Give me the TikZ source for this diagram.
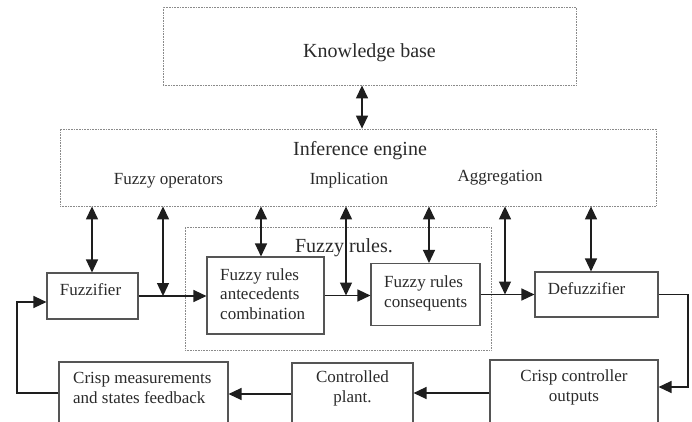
\documentclass[tikz,border=0pt]{standalone}
\usepackage{fontspec}
\setmainfont{Liberation Serif}
\usetikzlibrary{arrows.meta}
\definecolor{boxc}{HTML}{555555}
\definecolor{dotc}{HTML}{8A8A8A}
\definecolor{linec}{HTML}{1E1E1E}
\definecolor{txtc}{HTML}{2A2A2A}
\begin{document}
\begin{tikzpicture}[x=1pt,y=-1pt,
  box/.style={draw=boxc, line width=1.1pt, rectangle, inner sep=0pt},
  dotbox/.style={draw=dotc, line width=0.8pt, dash pattern=on 0.7pt off 0.9pt, rectangle, inner sep=0pt},
  lbl/.style={font=\fontsize{17}{19.5}\selectfont, inner sep=0pt, text=txtc},
  big/.style={font=\fontsize{20}{24}\selectfont, inner sep=0pt, text=txtc},
  arr/.style={draw=linec, line width=1.3pt, -{Triangle[length=13pt,width=12pt]}},
  dbl/.style={draw=linec, line width=1.3pt, {Triangle[length=13pt,width=12pt]}-{Triangle[length=13pt,width=12pt]}}]
\clip (0,0) rectangle (692,421);
\fill[white] (0,0) rectangle (692,421);
% containers
\node[dotbox, minimum width=413pt, minimum height=78pt] (kb) at (369.5,46) {};
\node[dotbox, minimum width=596pt, minimum height=77pt] (ie) at (358,167.5) {};
\node[dotbox, minimum width=306pt, minimum height=123pt] (fr) at (338,288.5) {};
% boxes
\node[box, minimum width=91pt, minimum height=46pt] (fuzz) at (92.5,296) {};
\node[box, minimum width=117pt, minimum height=77pt] (ant) at (265.5,295.5) {};
\node[box, minimum width=109pt, minimum height=62pt] (cons) at (425.5,294.5) {};
\node[box, minimum width=123pt, minimum height=45pt] (defz) at (596.5,294.5) {};
\node[box, minimum width=168pt, minimum height=80pt] (outs) at (574,400) {};
\node[box, minimum width=121pt, minimum height=77pt] (plant) at (352.5,401.5) {};
\node[box, minimum width=169pt, minimum height=78pt] (meas) at (143.5,401) {};
% texts (multi-line nodes anchored at the baseline of their last line)
\node[big, anchor=base] (tkb) at (369.5,57) {Knowledge base};
\node[big, anchor=base] (tie) at (360,155) {Inference engine};
\node[lbl, anchor=base] (top) at (168.5,184) {Fuzzy operators};
\node[lbl, anchor=base] (timp) at (349,184) {Implication};
\node[lbl, anchor=base] (tagg) at (500,181) {Aggregation};
\node[big, anchor=base] (tfr) at (344,252) {Fuzzy rules.};
\node[lbl, anchor=base] (tfuzz) at (90.5,295) {Fuzzifier};
\node[lbl, anchor=base west, align=left] (tant) at (220,319) {Fuzzy rules\\antecedents\\combination};
\node[lbl, anchor=base west, align=left] (tcons) at (384,307) {Fuzzy rules\\consequents};
\node[lbl, anchor=base] (tdefz) at (586.5,294) {Defuzzifier};
\node[lbl, anchor=base, align=center] (touts) at (574,401) {Crisp controller\\outputs};
\node[lbl, anchor=base, align=center] (tplant) at (352.5,402) {Controlled\\plant.};
\node[lbl, anchor=base west, align=left] (tmeas) at (73,403) {Crisp measurements\\and states feedback};
% junctions
\coordinate (j1) at (fuzz.east -| 163,0);
\coordinate (j2) at (ant.east -| 346,0);
\coordinate (j3) at (cons.east -| 505,0);
% vertical links
\draw[dbl] (kb.south -| 362,0) -- (ie.north -| 362,0);
\draw[dbl] (ie.south -| 92,0) -- (fuzz.north -| 92,0);
\draw[dbl] (ie.south -| j1) -- (j1);
\draw[dbl] (ie.south -| 261,0) -- (ant.north -| 261,0);
\draw[dbl] (ie.south -| j2) -- (j2);
\draw[dbl] (ie.south -| 429,0) -- (cons.north -| 429,0);
\draw[dbl] (ie.south -| j3) -- (j3);
\draw[dbl] (ie.south -| 591,0) -- (defz.north -| 591,0);
% main flow
\draw[arr] (fuzz.east) -- (fuzz.east -| ant.west);
\draw[arr] (ant.east) -- (ant.east -| cons.west);
\draw[arr] (cons.east) -- (cons.east -| defz.west);
\draw[arr] (defz.east) -| (688,387) -- (outs.east |- 0,387);
\draw[arr] (outs.west |- 0,393) -- (plant.east |- 0,393);
\draw[arr] (plant.west |- 0,394) -- (meas.east |- 0,394);
\draw[arr] (meas.west |- 0,393) -| (17,302) -- (fuzz.west |- 0,302);
\end{tikzpicture}
\end{document}
